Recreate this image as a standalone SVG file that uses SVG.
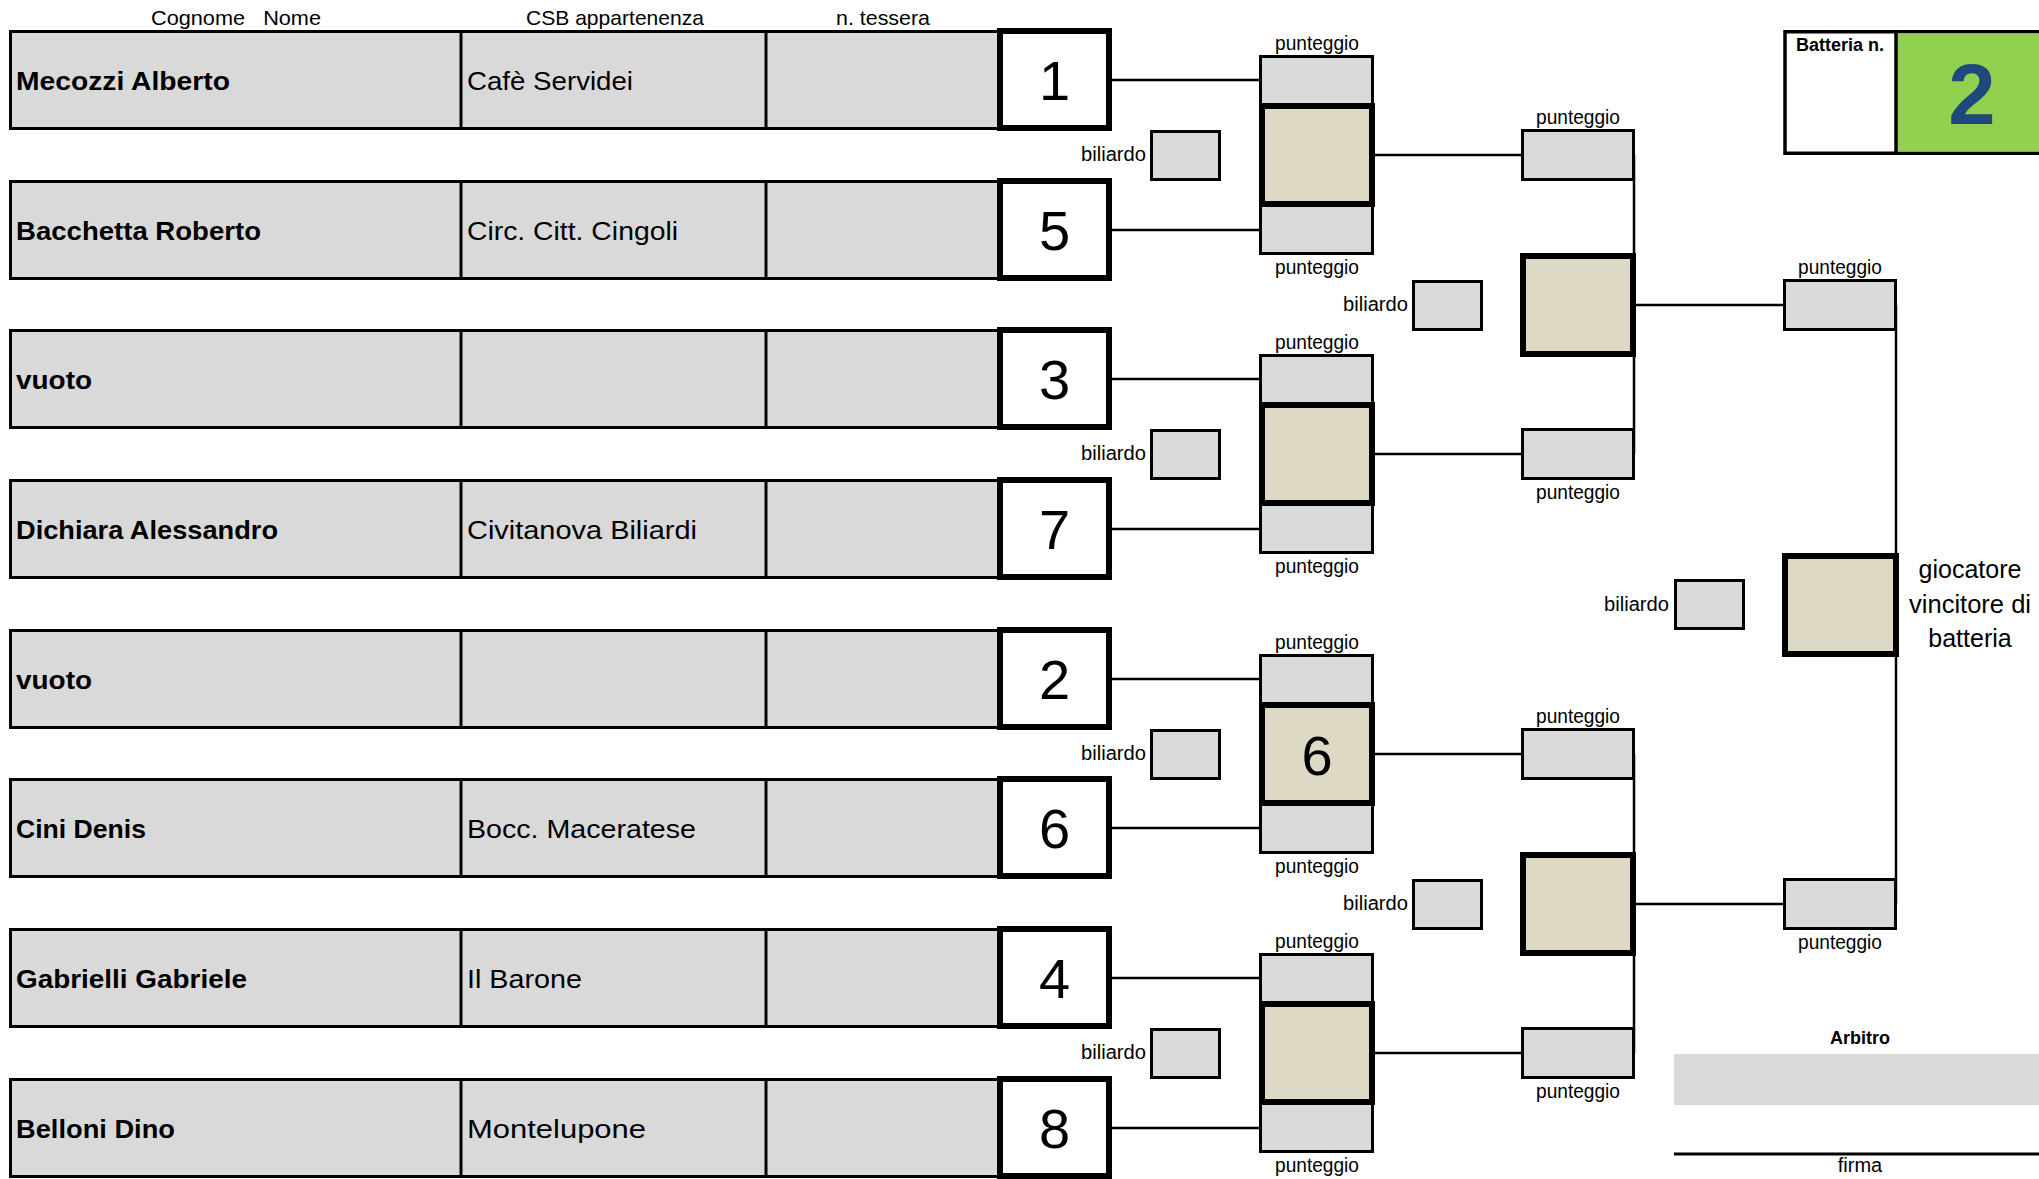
<svg xmlns="http://www.w3.org/2000/svg" width="2039" height="1179" viewBox="0 0 2039 1179">
<style>
  text { font-family: "Liberation Sans", Arial, sans-serif; fill: #000; }
  .hdr { font-size: 21px; text-anchor: middle; }
  .name { font-size: 26px; font-weight: bold; }
  .club { font-size: 26px; }
  .num { font-size: 56px; text-anchor: middle; }
  .pl { font-size: 20px; text-anchor: middle; }
  .bl { font-size: 20px; text-anchor: end; }
  .row { fill: #D9D9D9; stroke: #000; stroke-width: 3; }
  .div { stroke: #000; stroke-width: 3; }
  .nbox { fill: #FFFFFF; stroke: #000; stroke-width: 6; }
  .pbox { fill: #D9D9D9; stroke: #000; stroke-width: 3; }
  .wbox { fill: #DDD9C4; stroke: #000; stroke-width: 6; }
  .conn line { stroke: #000; stroke-width: 2.5; }
</style>

<g id="headers">
  <text class="hdr" x="236" y="25" xml:space="preserve" textLength="170" lengthAdjust="spacingAndGlyphs">Cognome   Nome</text>
  <text class="hdr" x="615" y="25" textLength="178" lengthAdjust="spacingAndGlyphs">CSB appartenenza</text>
  <text class="hdr" x="883" y="25" textLength="94" lengthAdjust="spacingAndGlyphs">n. tessera</text>
</g>

<g id="connectors" class="conn">
  <line x1="1112" y1="80" x2="1261" y2="80"/>
  <line x1="1112" y1="230" x2="1261" y2="230"/>
  <line x1="1112" y1="379" x2="1261" y2="379"/>
  <line x1="1112" y1="529" x2="1261" y2="529"/>
  <line x1="1112" y1="679" x2="1261" y2="679"/>
  <line x1="1112" y1="828" x2="1261" y2="828"/>
  <line x1="1112" y1="978" x2="1261" y2="978"/>
  <line x1="1112" y1="1128" x2="1261" y2="1128"/>
  <line x1="1375" y1="155" x2="1523" y2="155"/>
  <line x1="1375" y1="454" x2="1523" y2="454"/>
  <line x1="1375" y1="754" x2="1523" y2="754"/>
  <line x1="1375" y1="1053" x2="1523" y2="1053"/>
  <line x1="1634" y1="155" x2="1634" y2="454"/>
  <line x1="1634" y1="754" x2="1634" y2="1053"/>
  <line x1="1636" y1="305" x2="1785" y2="305"/>
  <line x1="1636" y1="904" x2="1785" y2="904"/>
  <line x1="1896" y1="305" x2="1896" y2="904"/>
</g>

<g id="player-1">
  <rect class="row" x="10.5" y="31.5" width="988" height="97"/>
  <line class="div" x1="461" y1="30" x2="461" y2="130"/>
  <line class="div" x1="766" y1="30" x2="766" y2="130"/>
  <text class="name" x="16" y="90" textLength="214" lengthAdjust="spacingAndGlyphs">Mecozzi Alberto</text>
  <text class="club" x="467" y="90" textLength="166" lengthAdjust="spacingAndGlyphs">Cafè Servidei</text>
  <rect class="nbox" x="1000" y="31" width="109" height="97"/>
  <text class="num" x="1054.5" y="100">1</text>
</g>
<g id="player-2">
  <rect class="row" x="10.5" y="181.5" width="988" height="97"/>
  <line class="div" x1="461" y1="180" x2="461" y2="280"/>
  <line class="div" x1="766" y1="180" x2="766" y2="280"/>
  <text class="name" x="16" y="240" textLength="245" lengthAdjust="spacingAndGlyphs">Bacchetta Roberto</text>
  <text class="club" x="467" y="240" textLength="211" lengthAdjust="spacingAndGlyphs">Circ. Citt. Cingoli</text>
  <rect class="nbox" x="1000" y="181" width="109" height="97"/>
  <text class="num" x="1054.5" y="250">5</text>
</g>
<g id="player-3">
  <rect class="row" x="10.5" y="330.5" width="988" height="97"/>
  <line class="div" x1="461" y1="329" x2="461" y2="429"/>
  <line class="div" x1="766" y1="329" x2="766" y2="429"/>
  <text class="name" x="16" y="389" textLength="76" lengthAdjust="spacingAndGlyphs">vuoto</text>
  <rect class="nbox" x="1000" y="330" width="109" height="97"/>
  <text class="num" x="1054.5" y="399">3</text>
</g>
<g id="player-4">
  <rect class="row" x="10.5" y="480.5" width="988" height="97"/>
  <line class="div" x1="461" y1="479" x2="461" y2="579"/>
  <line class="div" x1="766" y1="479" x2="766" y2="579"/>
  <text class="name" x="16" y="539" textLength="262" lengthAdjust="spacingAndGlyphs">Dichiara Alessandro</text>
  <text class="club" x="467" y="539" textLength="230" lengthAdjust="spacingAndGlyphs">Civitanova Biliardi</text>
  <rect class="nbox" x="1000" y="480" width="109" height="97"/>
  <text class="num" x="1054.5" y="549">7</text>
</g>
<g id="player-5">
  <rect class="row" x="10.5" y="630.5" width="988" height="97"/>
  <line class="div" x1="461" y1="629" x2="461" y2="729"/>
  <line class="div" x1="766" y1="629" x2="766" y2="729"/>
  <text class="name" x="16" y="689" textLength="76" lengthAdjust="spacingAndGlyphs">vuoto</text>
  <rect class="nbox" x="1000" y="630" width="109" height="97"/>
  <text class="num" x="1054.5" y="699">2</text>
</g>
<g id="player-6">
  <rect class="row" x="10.5" y="779.5" width="988" height="97"/>
  <line class="div" x1="461" y1="778" x2="461" y2="878"/>
  <line class="div" x1="766" y1="778" x2="766" y2="878"/>
  <text class="name" x="16" y="838" textLength="130" lengthAdjust="spacingAndGlyphs">Cini Denis</text>
  <text class="club" x="467" y="838" textLength="229" lengthAdjust="spacingAndGlyphs">Bocc. Maceratese</text>
  <rect class="nbox" x="1000" y="779" width="109" height="97"/>
  <text class="num" x="1054.5" y="848">6</text>
</g>
<g id="player-7">
  <rect class="row" x="10.5" y="929.5" width="988" height="97"/>
  <line class="div" x1="461" y1="928" x2="461" y2="1028"/>
  <line class="div" x1="766" y1="928" x2="766" y2="1028"/>
  <text class="name" x="16" y="988" textLength="231" lengthAdjust="spacingAndGlyphs">Gabrielli Gabriele</text>
  <text class="club" x="467" y="988" textLength="115" lengthAdjust="spacingAndGlyphs">Il Barone</text>
  <rect class="nbox" x="1000" y="929" width="109" height="97"/>
  <text class="num" x="1054.5" y="998">4</text>
</g>
<g id="player-8">
  <rect class="row" x="10.5" y="1079.5" width="988" height="97"/>
  <line class="div" x1="461" y1="1078" x2="461" y2="1178"/>
  <line class="div" x1="766" y1="1078" x2="766" y2="1178"/>
  <text class="name" x="16" y="1138" textLength="159" lengthAdjust="spacingAndGlyphs">Belloni Dino</text>
  <text class="club" x="467" y="1138" textLength="179" lengthAdjust="spacingAndGlyphs">Montelupone</text>
  <rect class="nbox" x="1000" y="1079" width="109" height="97"/>
  <text class="num" x="1054.5" y="1148">8</text>
</g>

<g id="r1-match-1">
  <text class="pl" x="1317" y="50" textLength="84" lengthAdjust="spacingAndGlyphs">punteggio</text>
  <rect class="pbox" x="1260.5" y="56.5" width="112" height="48"/>
  <rect class="pbox" x="1260.5" y="205.5" width="112" height="48"/>
  <rect class="wbox" x="1262" y="106" width="110" height="98"/>
  <text class="pl" x="1317" y="274" textLength="84" lengthAdjust="spacingAndGlyphs">punteggio</text>
  <rect class="pbox" x="1151.5" y="131.5" width="68" height="48"/>
  <text class="bl" x="1146" y="161" textLength="65" lengthAdjust="spacingAndGlyphs">biliardo</text>
</g>
<g id="r1-match-2">
  <text class="pl" x="1317" y="349" textLength="84" lengthAdjust="spacingAndGlyphs">punteggio</text>
  <rect class="pbox" x="1260.5" y="355.5" width="112" height="48"/>
  <rect class="pbox" x="1260.5" y="504.5" width="112" height="48"/>
  <rect class="wbox" x="1262" y="405" width="110" height="98"/>
  <text class="pl" x="1317" y="573" textLength="84" lengthAdjust="spacingAndGlyphs">punteggio</text>
  <rect class="pbox" x="1151.5" y="430.5" width="68" height="48"/>
  <text class="bl" x="1146" y="460" textLength="65" lengthAdjust="spacingAndGlyphs">biliardo</text>
</g>
<g id="r1-match-3">
  <text class="pl" x="1317" y="649" textLength="84" lengthAdjust="spacingAndGlyphs">punteggio</text>
  <rect class="pbox" x="1260.5" y="655.5" width="112" height="48"/>
  <rect class="pbox" x="1260.5" y="804.5" width="112" height="48"/>
  <rect class="wbox" x="1262" y="705" width="110" height="98"/>
  <text class="num" x="1317" y="775">6</text>
  <text class="pl" x="1317" y="873" textLength="84" lengthAdjust="spacingAndGlyphs">punteggio</text>
  <rect class="pbox" x="1151.5" y="730.5" width="68" height="48"/>
  <text class="bl" x="1146" y="760" textLength="65" lengthAdjust="spacingAndGlyphs">biliardo</text>
</g>
<g id="r1-match-4">
  <text class="pl" x="1317" y="948" textLength="84" lengthAdjust="spacingAndGlyphs">punteggio</text>
  <rect class="pbox" x="1260.5" y="954.5" width="112" height="48"/>
  <rect class="pbox" x="1260.5" y="1103.5" width="112" height="48"/>
  <rect class="wbox" x="1262" y="1004" width="110" height="98"/>
  <text class="pl" x="1317" y="1172" textLength="84" lengthAdjust="spacingAndGlyphs">punteggio</text>
  <rect class="pbox" x="1151.5" y="1029.5" width="68" height="48"/>
  <text class="bl" x="1146" y="1059" textLength="65" lengthAdjust="spacingAndGlyphs">biliardo</text>
</g>

<g id="r2-match-1">
  <text class="pl" x="1578" y="124" textLength="84" lengthAdjust="spacingAndGlyphs">punteggio</text>
  <rect class="pbox" x="1522.5" y="130.5" width="111" height="49"/>
  <rect class="pbox" x="1522.5" y="429.5" width="111" height="49"/>
  <text class="pl" x="1578" y="499" textLength="84" lengthAdjust="spacingAndGlyphs">punteggio</text>
  <rect class="wbox" x="1523" y="256" width="110" height="98"/>
  <rect class="pbox" x="1413.5" y="281.5" width="68" height="48"/>
  <text class="bl" x="1408" y="311" textLength="65" lengthAdjust="spacingAndGlyphs">biliardo</text>
</g>
<g id="r2-match-2">
  <text class="pl" x="1578" y="723" textLength="84" lengthAdjust="spacingAndGlyphs">punteggio</text>
  <rect class="pbox" x="1522.5" y="729.5" width="111" height="49"/>
  <rect class="pbox" x="1522.5" y="1028.5" width="111" height="49"/>
  <text class="pl" x="1578" y="1098" textLength="84" lengthAdjust="spacingAndGlyphs">punteggio</text>
  <rect class="wbox" x="1523" y="855" width="110" height="98"/>
  <rect class="pbox" x="1413.5" y="880.5" width="68" height="48"/>
  <text class="bl" x="1408" y="910" textLength="65" lengthAdjust="spacingAndGlyphs">biliardo</text>
</g>

<g id="final">
  <text class="pl" x="1840" y="274" textLength="84" lengthAdjust="spacingAndGlyphs">punteggio</text>
  <rect class="pbox" x="1784.5" y="280.5" width="111" height="49"/>
  <rect class="pbox" x="1784.5" y="879.5" width="111" height="49"/>
  <text class="pl" x="1840" y="949" textLength="84" lengthAdjust="spacingAndGlyphs">punteggio</text>
  <rect class="wbox" x="1785" y="556" width="111" height="98"/>
  <rect class="pbox" x="1675.5" y="580.5" width="68" height="48"/>
  <text class="bl" x="1669" y="611" textLength="65" lengthAdjust="spacingAndGlyphs">biliardo</text>
  <text x="1970" y="578" font-size="25" text-anchor="middle">giocatore</text>
  <text x="1970" y="613" font-size="25" text-anchor="middle" textLength="122" lengthAdjust="spacingAndGlyphs">vincitore di</text>
  <text x="1970" y="647" font-size="25" text-anchor="middle">batteria</text>
</g>

<g id="batteria">
  <rect x="1785" y="31.75" width="280" height="121.5" fill="#FFFFFF" stroke="#000" stroke-width="3.5"/>
  <rect x="1896" y="33.5" width="150" height="118" fill="#92D050"/>
  <line x1="1896" y1="30" x2="1896" y2="155" stroke="#000" stroke-width="3.5"/>
  <text x="1840" y="51" font-size="18" font-weight="bold" text-anchor="middle">Batteria n.</text>
  <text x="1972" y="124" font-size="85" font-weight="bold" text-anchor="middle" style="fill:#1F497D">2</text>
</g>

<g id="arbitro">
  <text x="1860" y="1044" font-size="18" font-weight="bold" text-anchor="middle">Arbitro</text>
  <rect x="1674" y="1054" width="365" height="51" fill="#D9D9D9"/>
  <line x1="1674" y1="1154" x2="2039" y2="1154" stroke="#000" stroke-width="3"/>
  <text class="pl" x="1860" y="1172">firma</text>
</g>
</svg>
